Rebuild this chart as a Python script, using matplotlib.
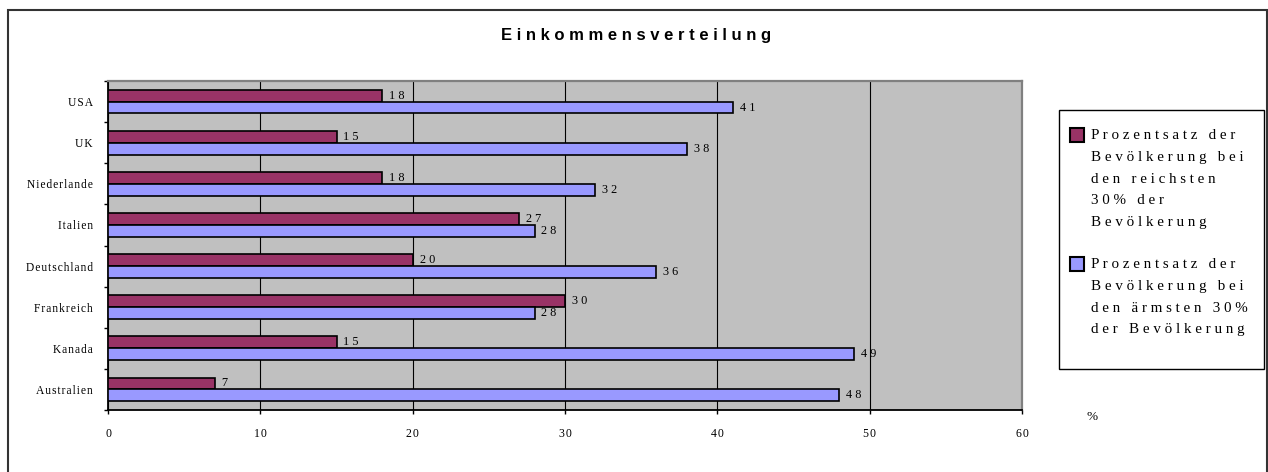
import numpy as np
import matplotlib
matplotlib.use("Agg")
import matplotlib.pyplot as plt
from matplotlib.patches import Rectangle

# data (bottom to top as drawn)
countries = ["Australien", "Kanada", "Frankreich", "Deutschland",
             "Italien", "Niederlande", "UK", "USA"]
richest = [7, 15, 30, 20, 27, 18, 15, 18]
poorest = [48, 49, 28, 36, 28, 32, 38, 41]
label_rich = "Prozentsatz der\nBevölkerung bei\nden reichsten\n30% der\nBevölkerung"
label_poor = "Prozentsatz der\nBevölkerung bei\nden ärmsten 30%\nder Bevölkerung"
x_ticks = [0, 10, 20, 30, 40, 50, 60]

col_rich = "#993366"
col_poor = "#9999FF"

plt.rcParams["font.family"] = ["Liberation Serif", "DejaVu Serif"]

W, H = 1268, 472


def spaced(s, sep=" "):
    # old excel charts spread the letters out
    return "\n".join(sep.join(line) for line in s.split("\n"))


fig = plt.figure(figsize=(W / 100, H / 100), dpi=100)
ax = fig.add_axes([108 / W, 1 - 410 / H, 914 / W, 329 / H])
ax.set_facecolor("#C0C0C0")

y = np.arange(len(countries))
h = 0.29
b_rich = ax.barh(y + h / 2, richest, height=h, color=col_rich,
                 edgecolor="black", linewidth=1.2, zorder=3)
b_poor = ax.barh(y - h / 2, poorest, height=h, color=col_poor,
                 edgecolor="black", linewidth=1.2, zorder=3)

ax.bar_label(b_rich, labels=[spaced(str(v)) for v in richest],
             padding=5, fontsize=8.8)
ax.bar_label(b_poor, labels=[spaced(str(v)) for v in poorest],
             padding=5, fontsize=8.8)

# axes
ax.set_xlim(0, 60)
ax.set_ylim(-0.5, len(countries) - 0.5)
ax.set_xticks(x_ticks)
ax.set_xticklabels([spaced(str(t), "\u200a") for t in x_ticks], fontsize=8.5)
ax.set_yticks(y)
ax.set_yticklabels([spaced(c, "\u200a") for c in countries], fontsize=8.3)
ax.set_yticks(np.arange(-0.5, len(countries), 1), minor=True)
ax.tick_params(axis="y", which="major", length=0, pad=11)
ax.tick_params(axis="y", which="minor", length=3, width=1, direction="out")
ax.tick_params(axis="x", length=3, width=1, pad=10)

ax.grid(axis="x", color="black", linewidth=0.8, zorder=1)
ax.set_axisbelow(True)
ax.spines["left"].set_color("black")
ax.spines["bottom"].set_color("black")
ax.spines["left"].set_linewidth(1.3)
ax.spines["bottom"].set_linewidth(1.3)
for s in ["top", "right"]:
    ax.spines[s].set_color("#808080")
    ax.spines[s].set_linewidth(1.6)

ax.text(1092 / W, 1 - 417 / H, "%", transform=fig.transFigure,
        fontsize=9.5, ha="center", va="center")

# title
fig.text(0.502, 1 - 35.5 / H, spaced("Einkommensverteilung"),
         family="Liberation Sans", fontweight="bold", fontsize=12,
         ha="center", va="center")

# legend (drawn by hand so the marker sits on the first line)
fig.patches.append(Rectangle((1059 / W, 1 - 369 / H), 205 / W, 259 / H,
                             transform=fig.transFigure, fill=False,
                             edgecolor="black", linewidth=1))
for lab, col, top in [(label_rich, col_rich, 129), (label_poor, col_poor, 258)]:
    fig.patches.append(Rectangle((1070 / W, 1 - (top + 13) / H), 14 / W, 14 / H,
                                 transform=fig.transFigure, facecolor=col,
                                 edgecolor="black", linewidth=1.5))
    fig.text(1091 / W, 1 - top / H, spaced(lab), fontsize=10.8,
             ha="left", va="top", linespacing=1.88)

# outer chart border
fig.patches.append(Rectangle((8 / W, -0.05), 1259 / W, 1.05 - 10 / H,
                             transform=fig.transFigure, fill=False,
                             edgecolor="#333333", linewidth=1.5))

fig.savefig("out.png", dpi=100)
